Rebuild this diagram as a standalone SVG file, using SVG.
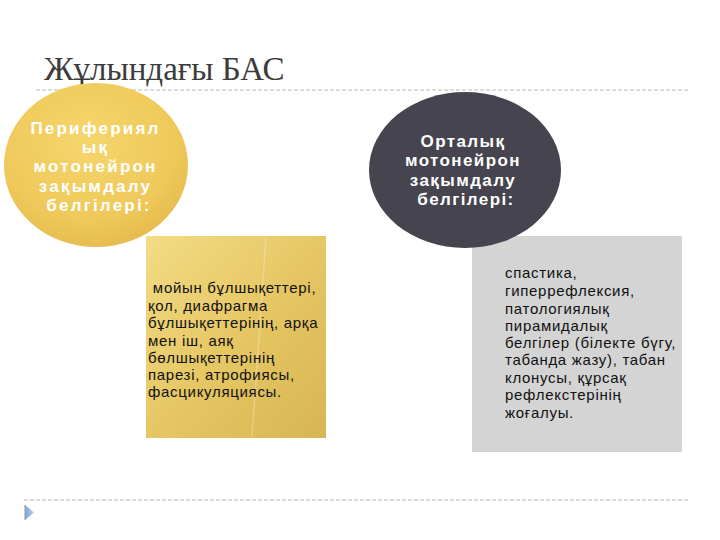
<svg xmlns="http://www.w3.org/2000/svg" width="720" height="540" viewBox="0 0 720 540">
  <defs>
    <radialGradient id="goldCircle" cx="0.45" cy="0.35" r="0.7">
      <stop offset="0" stop-color="#f6d66c"/>
      <stop offset="0.7" stop-color="#efc85a"/>
      <stop offset="1" stop-color="#e3b94a"/>
    </radialGradient>
    <linearGradient id="goldRect" x1="0" y1="0" x2="1" y2="1">
      <stop offset="0" stop-color="#f2dc86"/>
      <stop offset="0.5" stop-color="#e6c764"/>
      <stop offset="1" stop-color="#d7b552"/>
    </linearGradient>
    <linearGradient id="bullet" x1="0" y1="0" x2="1" y2="0">
      <stop offset="0" stop-color="#7fa6d4"/>
      <stop offset="1" stop-color="#b5cfea"/>
    </linearGradient>
    <style>
      .title { font-family: "Liberation Serif", "DejaVu Serif", serif; font-size: 33px; fill: #3c3c3c; }
      .head { font-family: "Liberation Sans", Arial, sans-serif; font-size: 17px; font-weight: bold; fill: #ffffff; text-anchor: middle; }
      .headY { letter-spacing: 2.2px; }
      .headD { letter-spacing: 1.4px; }
      .body { font-family: "Liberation Sans", Arial, sans-serif; font-size: 15px; fill: #111111; letter-spacing: 0.7px; }
      .rule { stroke: #b9b9b9; stroke-width: 1; stroke-dasharray: 4 2; fill: none; }
    </style>
  </defs>
  <rect width="720" height="540" fill="#ffffff"/>

  <text class="title" x="44" y="80">Жұлындағы БАС</text>
  <line class="rule" x1="36" y1="90" x2="690" y2="90"/>

  <g id="peripheral-rect">
    <rect x="146" y="236" width="180" height="202" fill="url(#goldRect)"/>
    <line x1="266" y1="238" x2="252" y2="436" stroke="#ffffff" stroke-opacity="0.25" stroke-width="1.5"/>
    <text class="body">
      <tspan x="148" y="293" xml:space="preserve"> мойын бұлшықеттері,</tspan>
      <tspan x="148" y="311">қол, диафрагма</tspan>
      <tspan x="148" y="328">бұлшықеттерінің, арқа</tspan>
      <tspan x="148" y="346">мен іш, аяқ</tspan>
      <tspan x="148" y="363">бөлшықеттерінің</tspan>
      <tspan x="148" y="380">парезі, атрофиясы,</tspan>
      <tspan x="148" y="397">фасцикуляциясы.</tspan>
    </text>
  </g>

  <g id="peripheral-circle">
    <ellipse cx="96" cy="165" rx="92" ry="82" fill="url(#goldCircle)"/>
    <text class="head headY">
      <tspan x="99" y="134">Перифериял</tspan>
      <tspan x="99" y="153">ық</tspan>
      <tspan x="99" y="172">мотонейрон</tspan>
      <tspan x="99" y="192">зақымдалу</tspan>
      <tspan x="99" y="211">белгілері:</tspan>
    </text>
  </g>

  <g id="central-rect">
    <rect x="472" y="236" width="210" height="216" fill="#d4d4d4"/>
    <text class="body">
      <tspan x="505" y="278">спастика,</tspan>
      <tspan x="505" y="296">гиперрефлексия,</tspan>
      <tspan x="505" y="314">патологиялық</tspan>
      <tspan x="505" y="331">пирамидалық</tspan>
      <tspan x="505" y="348">белгілер (білекте бүгу,</tspan>
      <tspan x="505" y="365">табанда жазу), табан</tspan>
      <tspan x="505" y="383">клонусы, құрсақ</tspan>
      <tspan x="505" y="400">рефлекстерінің</tspan>
      <tspan x="505" y="418">жоғалуы.</tspan>
    </text>
  </g>

  <g id="central-circle">
    <ellipse cx="465" cy="170" rx="96" ry="78" fill="#45444f"/>
    <text class="head headD">
      <tspan x="466" y="147">Орталық</tspan>
      <tspan x="466" y="166">мотонейрон</tspan>
      <tspan x="466" y="186">зақымдалу</tspan>
      <tspan x="466" y="205">белгілері:</tspan>
    </text>
  </g>

  <g id="connectors"/>

  <line class="rule" x1="24" y1="500" x2="690" y2="500"/>
  <g id="bullet-marker">
    <polygon points="25,505 34,512.5 25,520" fill="url(#bullet)"/>
    <line x1="25" y1="505" x2="25" y2="520" stroke="#8a9aaa" stroke-width="1"/>
  </g>
</svg>
